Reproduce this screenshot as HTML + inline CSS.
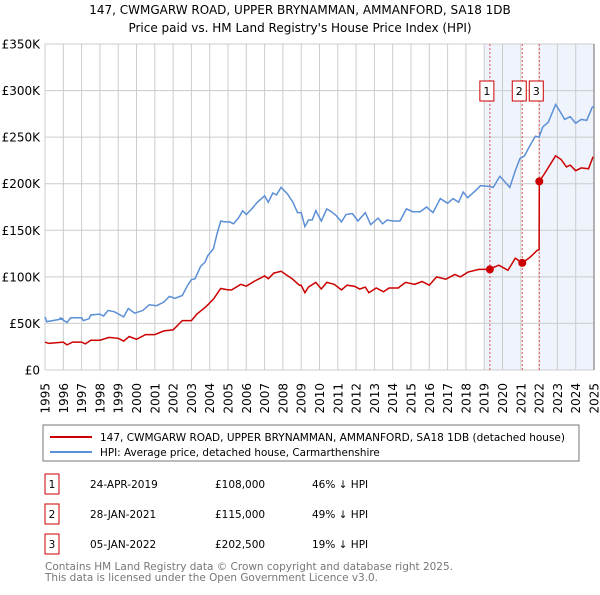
<!DOCTYPE html>
<html><head><meta charset="utf-8"><style>
body{margin:0;background:#fff;font-family:"Liberation Sans","DejaVu Sans",sans-serif}
svg text{font-family:"DejaVu Sans","Liberation Sans",sans-serif}
</style></head><body>
<svg id="chart" width="600" height="590" viewBox="0 0 600 590" xmlns="http://www.w3.org/2000/svg">
<text x="300" y="14" font-size="12" text-anchor="middle" fill="#000">147, CWMGARW ROAD, UPPER BRYNAMMAN, AMMANFORD, SA18 1DB</text>
<text x="300" y="32" font-size="12" text-anchor="middle" fill="#000">Price paid vs. HM Land Registry's House Price Index (HPI)</text>
<g id="plot"></g>
<g>
<rect x="43" y="425" width="536" height="36" fill="#fff" stroke="#777"/>
<line x1="50" y1="437" x2="92" y2="437" stroke="#cc0000" stroke-width="2"/>
<text x="100" y="441" font-size="10.4" textLength="465" lengthAdjust="spacingAndGlyphs">147, CWMGARW ROAD, UPPER BRYNAMMAN, AMMANFORD, SA18 1DB (detached house)</text>
<line x1="50" y1="452" x2="92" y2="452" stroke="#5b8fd6" stroke-width="2"/>
<text x="100" y="456" font-size="10.4">HPI: Average price, detached house, Carmarthenshire</text>
</g>
<g id="table" font-size="10.5"></g>
<text x="45" y="570" font-size="10.5" fill="#777" textLength="408" lengthAdjust="spacingAndGlyphs">Contains HM Land Registry data © Crown copyright and database right 2025.</text>
<text x="45" y="581" font-size="10.5" fill="#777" textLength="333" lengthAdjust="spacingAndGlyphs">This data is licensed under the Open Government Licence v3.0.</text>
</svg>
<script>
const hpiYears=[1995,1995.1,1996,1995.8,1996.2,1996.4,1997,1997.1,1997.4,1997.5,1998,1998.2,1998.45,1998.8,1999.3,1999.55,1999.9,2000.35,2000.7,2001.1,2001.5,2001.8,2002.1,2002.5,2002.8,2003,2003.2,2003.5,2003.75,2003.9,2004.2,2004.4,2004.6,2004.8,2005.1,2005.3,2005.6,2005.8,2006,2006.3,2006.6,2007,2007.2,2007.45,2007.65,2007.9,2008.25,2008.55,2008.8,2009.0,2009.2,2009.4,2009.6,2009.8,2010.1,2010.4,2010.65,2010.9,2011.2,2011.45,2011.8,2012.1,2012.5,2012.8,2013.2,2013.45,2013.7,2014.0,2014.4,2014.75,2015.1,2015.5,2015.85,2016.2,2016.6,2017.0,2017.3,2017.6,2017.85,2018.1,2018.55,2018.8,2019.3,2019.5,2019.85,2020.0,2020.4,2020.7,2020.95,2021.2,2021.5,2021.8,2022.0,2022.2,2022.5,2022.9,2023.1,2023.4,2023.7,2024.0,2024.3,2024.6,2024.9,2025.0];
const hpiValues=[57,52,55,56,51,56,56,53,55,59,60,58,64,62.5,57,66,61,64,70,69,73,79,77,80,91,97,98,111,116,123,130,146,160,159,159,157,164,171,167,173,180,187,180,190,188,196,189,180,169,169,154,161,161,171,160,173,170,166,159,167,168,160,169,156,163,157,161,160,160,173,170,170,175,169,184,179,184,180,191,185,193,198,197,196,208,205,196,214,227,230,241,251,250,261,266,285,279,269,272,265,269,268,282,283];
const ppYears=[1995,1995.2,1996,1996.2,1996.5,1997,1997.2,1997.5,1998,1998.5,1999,1999.3,1999.6,2000,2000.5,2001,2001.5,2002,2002.5,2003,2003.3,2003.8,2004.2,2004.6,2005,2005.2,2005.7,2006,2006.5,2007,2007.2,2007.5,2007.9,2008.5,2008.9,2009,2009.2,2009.4,2009.8,2010.1,2010.4,2010.8,2011.2,2011.5,2011.9,2012.2,2012.5,2012.7,2013.1,2013.5,2013.8,2014.3,2014.7,2015.2,2015.6,2016,2016.4,2016.9,2017.4,2017.7,2018.1,2018.7,2019.31,2019.5,2019.8,2020.3,2020.7,2021.08,2021.5,2021.9,2022.0,2022.01,2022.3,2022.9,2023.2,2023.5,2023.7,2024.0,2024.3,2024.7,2024.95];
const ppValues=[30,28.6,30,27,30,30,28,32,32,35,34,31,36,33,38,38,42,43,53,53,60,68,76,87.5,86,86,92,90,96,101,98,104,106,98,91,91,83,89,94,87,94,92,86,91,90,87,89,83,88,84,88,88,94,92,95,91,100,97.5,102.5,100,105,108,108,110,112.5,107,120,115,121,128.6,129,202.5,211,230,226,218,220,214,217,216,229];
const saleYears=[2019.31,2021.08,2022.01];
const saleValues=[108,115,202.5];
const saleLabels=["1","2","3"];
const saleDates=["24-APR-2019","28-JAN-2021","05-JAN-2022"];
const salePrices=["£108,000","£115,000","£202,500"];
const saleDiffs=["46% ↓ HPI","49% ↓ HPI","19% ↓ HPI"];
const yTicks=[0,50,100,150,200,250,300,350];
const yTickLabels=["£0","£50K","£100K","£150K","£200K","£250K","£300K","£350K"];
const xTicks=[1995,1996,1997,1998,1999,2000,2001,2002,2003,2004,2005,2006,2007,2008,2009,2010,2011,2012,2013,2014,2015,2016,2017,2018,2019,2020,2021,2022,2023,2024,2025];

const NS="http://www.w3.org/2000/svg";
const L=45,R=594,T=44,B=370;
const x=y=>L+(y-1995)/30*(R-L);
const yv=v=>B-v/350*(B-T);
const plot=document.getElementById('plot');
function mk(tag,attrs,parent){const e=document.createElementNS(NS,tag);for(const k in attrs)e.setAttribute(k,attrs[k]);(parent||plot).appendChild(e);return e;}

let s1=mk('rect',{x:x(2019),y:T,width:x(2021)-x(2019),height:B-T,fill:'#eef3fc'});


let s2=mk('rect',{x:x(2022),y:T,width:x(2025)-x(2022),height:B-T,fill:'#eef3fc'});



xTicks.forEach(t=>{
  const g=mk('line',{x1:x(t),x2:x(t),y1:T,y2:B,stroke:'#cccccc','stroke-width':1});
  
  
  const tx=mk('text',{x:0,y:0,'font-size':12,'text-anchor':'end',transform:`translate(${x(t)+4.5},383) rotate(-90)`});
  tx.textContent=t;
  
  
});
yTicks.forEach((t,i)=>{
  const g=mk('line',{x1:L,x2:R,y1:yv(t),y2:yv(t),stroke:'#cccccc','stroke-width':1});
  
  
  const tx=mk('text',{x:40,y:yv(t)+4.5,'font-size':12,'text-anchor':'end'});
  tx.textContent=yTickLabels[i];
  
  
});
let rb=mk('line',{x1:R,x2:R,y1:T,y2:B,stroke:'#999','stroke-width':1.5});



saleYears.forEach((sy,i)=>{
  const d=mk('line',{x1:x(sy),x2:x(sy),y1:T,y2:B,stroke:'#dd5555','stroke-width':1,'stroke-dasharray':'2,2'});
  
  
  const cx=x(sy)-3;
  const bx=mk('rect',{x:cx-7,y:81,width:14,height:20,fill:'#fff',stroke:'#cc0000'});
  
  
  const t=mk('text',{x:cx,y:95,'font-size':11,'text-anchor':'middle'});
  t.textContent=saleLabels[i];
  
  
});

function path(xs,vs){return xs.map((a,i)=>(i?'L':'M')+x(a).toFixed(1)+','+yv(vs[i]).toFixed(1)).join('');}
let hl=mk('path',{d:path(hpiYears,hpiValues),fill:'none',stroke:'#5b8fd6','stroke-width':1.5});


let pl=mk('path',{d:path(ppYears,ppValues),fill:'none',stroke:'#cc0000','stroke-width':1.5});


saleYears.forEach((sy,i)=>{
  const c=mk('circle',{cx:x(sy),cy:yv(saleValues[i]),r:4,fill:'#cc0000'});
  
  
});

const tb=document.getElementById('table');
saleYears.forEach((sy,i)=>{
  const cy=486+i*30;
  const b=mk('rect',{x:45,y:cy-12,width:14,height:20,fill:'#fff',stroke:'#cc0000'},tb);
  
  
  const cells=[[52,saleLabels[i],'middle'],[90,saleDates[i],'start'],[215,salePrices[i],'start'],[312,saleDiffs[i],'start']];
  cells.forEach(c=>{
    const t=mk('text',{x:c[0],y:cy+2,'text-anchor':c[2]},tb);
    t.textContent=c[1];
    
    
  });
});
</script>
</body></html>
